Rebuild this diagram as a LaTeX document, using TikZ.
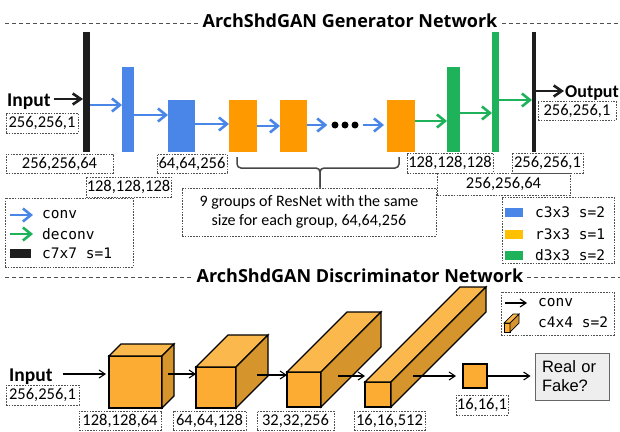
\documentclass[tikz,border=0pt]{standalone}
\usepackage{fontspec}
\setmainfont{Carlito}
\newfontfamily\monof{DejaVu Sans Mono}
\newfontfamily\arialf{Liberation Sans}
\newfontfamily\titlef{Open Sans}
\usetikzlibrary{arrows.meta,calc}
\definecolor{gblue}{RGB}{74,134,232}
\definecolor{gorange}{RGB}{255,153,0}
\definecolor{ggreen}{RGB}{30,178,90}
\definecolor{gblack}{RGB}{30,30,30}
\definecolor{lyellow}{RGB}{255,192,0}
\definecolor{cfront}{RGB}{252,172,50}
\definecolor{ctop}{RGB}{251,184,76}
\definecolor{cside}{RGB}{214,148,45}
\definecolor{dashgray}{RGB}{80,80,80}
\definecolor{bracegray}{RGB}{70,70,70}
\definecolor{rfgray}{RGB}{238,238,238}
\newcommand\mycube[7]{%
  \node[cubefront, #7, minimum width=#4pt, minimum height=#5pt, anchor=north west] (#1) at (#2,#3) {};
  \filldraw[cubetop, #7] (#1.north west) -- ++(#6,-#6) -- ++(#4,0) -- (#1.north east) -- cycle;
  \filldraw[cubeside, #7] (#1.north east) -- ++(#6,-#6) -- ++(0,#5) -- (#1.south east) -- cycle;
}
\begin{document}
\begin{tikzpicture}[x=1pt,y=-1pt,
  ttl/.style={font=\titlef\fontsize{18}{22}\selectfont\bfseries, inner sep=0pt, anchor=base},
  tdash/.style={draw=dashgray, line width=0.9pt, dash pattern=on 4pt off 3pt},
  inp/.style={font=\fontsize{19.5}{23}\selectfont\bfseries, inner sep=0pt, anchor=base west},
  bar/.style={draw=none, inner sep=0pt, outer sep=0pt, anchor=north west},
  lbl/.style={draw=dashgray, line width=0.6pt, dash pattern=on 1.6pt off 1.2pt, inner sep=0pt, font=\fontsize{16.5}{19}\selectfont},
  lgd/.style={draw=dashgray, line width=0.6pt, dash pattern=on 1.6pt off 1.2pt, inner sep=0pt},
  lgt/.style={font=\monof\fontsize{14.5}{17}\selectfont, inner sep=0pt, anchor=west},
  genarr/.style={line width=2.6pt, -{Straight Barb[length=8pt,width=13pt]}},
  blkarr/.style={line width=2.6pt, gblack, -{Straight Barb[length=8pt,width=11pt]}},
  darr/.style={line width=1.1pt, black, -{Straight Barb[length=6pt,width=8pt]}},
  cubefront/.style={draw=black, fill=cfront, line width=1.2pt, inner sep=0pt, outer sep=0pt},
  cubetop/.style={draw=black, fill=ctop, line width=1.2pt},
  cubeside/.style={draw=black, fill=cside, line width=1.2pt},
  dotn/.style={circle, fill=black, inner sep=0pt, minimum size=7pt},
  brace/.style={draw=bracegray, line width=1.5pt, rounded corners=4pt}
]
\useasboundingbox (0,0) rectangle (620,431);

% ---------------- Generator ----------------
\node[ttl] (gt) at (350,27) {ArchShdGAN Generator Network};
\draw[tdash] (5,23) -- ([xshift=-3pt]gt.west |- 0,23);
\draw[tdash] ([xshift=4pt]gt.east |- 0,23) -- (620,23);

\node[bar, fill=gblack, minimum width=7pt, minimum height=120pt] (k1) at (83,32) {};
\node[bar, fill=gblue, minimum width=12pt, minimum height=85pt] (b1) at (122,67) {};
\node[bar, fill=gblue, minimum width=27pt, minimum height=52pt] (b2) at (168,100) {};
\node[bar, fill=gorange, minimum width=28pt, minimum height=52pt] (o1) at (229,100) {};
\node[bar, fill=gorange, minimum width=27pt, minimum height=52pt] (o2) at (280,100) {};
\node[bar, fill=gorange, minimum width=28pt, minimum height=52pt] (o3) at (387,100) {};
\node[bar, fill=ggreen, minimum width=13pt, minimum height=85pt] (g1) at (447,67) {};
\node[bar, fill=ggreen, minimum width=7pt, minimum height=120pt] (g2) at (492,32) {};
\node[bar, fill=gblack, minimum width=4pt, minimum height=120pt] (k2) at (532,32) {};

\node[dotn] (d1) at (335,125) {};
\node[dotn] (d2) at (345,125) {};
\node[dotn] (d3) at (355,125) {};

\node[inp] (gin) at (7,106) {Input};
\node[inp, font=\fontsize{18}{22}\selectfont\bfseries] (gout) at (565,97) {Output};

\draw[blkarr, shorten <=3pt] (gin.east |- 0,99) -- (k1.west |- 0,99);
\draw[genarr, gblue] (k1.east |- 0,105) -- (b1.west |- 0,105);
\draw[genarr, gblue] (b1.east |- 0,115) -- (b2.west |- 0,115);
\draw[genarr, gblue] (b2.east |- 0,124) -- (o1.west |- 0,124);
\draw[genarr, gblue] (o1.east |- 0,126) -- (o2.west |- 0,126);
\draw[genarr, gblue, shorten >=4pt] (o2.east |- 0,125) -- (d1.west);
\draw[genarr, gblue, shorten <=4pt, shorten >=3pt] (d3.east) -- (o3.west |- 0,125);
\draw[genarr, ggreen] (o3.east |- 0,121) -- (g1.west |- 0,121);
\draw[genarr, ggreen] (g1.east |- 0,113) -- (g2.west |- 0,113);
\draw[genarr, ggreen] (g2.east |- 0,100) -- (k2.west |- 0,100);
\draw[blkarr, shorten >=1pt] (k2.east |- 0,91) -- (gout.west |- 0,91);

\node[lbl, minimum width=72pt, minimum height=20pt] (l1) at (42,123) {256,256,1};
\node[lbl, minimum width=107pt, minimum height=19pt] (l2) at (59.5,163.5) {256,256,64};
\node[lbl, minimum width=85pt, minimum height=20pt] (l3) at (128.5,187) {128,128,128};
\node[lbl, minimum width=70pt, minimum height=19pt] (l4) at (192,163.5) {64,64,256};
\node[lbl, minimum width=86pt, minimum height=20pt] (l5) at (450,163) {128,128,128};
\node[lbl, minimum width=71pt, minimum height=20pt] (l6) at (547.5,163) {256,256,1};
\node[lbl, minimum width=133pt, minimum height=22pt] (l7) at (503.5,184) {256,256,64};
\node[lbl, minimum width=78pt, minimum height=19pt] (l8) at (577,110.5) {256,256,1};

\node[lbl, minimum width=254pt, minimum height=48pt, align=center, font=\fontsize{16}{19}\selectfont] (txt) at (309,212)
  {9 groups of ResNet with the same\\size for each group, 64,64,256};
\coordinate (bl) at (237,157);
\coordinate (br) at (399,157);
\coordinate (bm) at (320,168);
\draw[brace] (bl) |- (bm) -- (bm |- txt.north);
\draw[brace] (br) |- (bm) -- (bm |- txt.north);

% legend left
\node[lgd, minimum width=128pt, minimum height=69pt] (legL) at (69,232.5) {};
\coordinate (la1) at (10,215); \coordinate (la2) at (33,215);
\coordinate (lb1) at (10,234); \coordinate (lb2) at (33,234);
\draw[genarr, gblue] (la1) -- (la2);
\draw[genarr, ggreen] (lb1) -- (lb2);
\node[bar, fill=gblack, minimum width=21pt, minimum height=9pt] (lk) at (10,249) {};
\node[lgt] (lt1) at (42,215) {conv};
\node[lgt] (lt2) at (42,234) {deconv};
\node[lgt] (lt3) at (42,253.5) {c7x7 s=1};

% legend right
\node[lgd, minimum width=112pt, minimum height=66pt] (legR) at (558,230) {};
\node[bar, fill=gblue, minimum width=18pt, minimum height=9pt] (lr1) at (505,208) {};
\node[bar, fill=lyellow, minimum width=18pt, minimum height=9pt] (lr2) at (505,230) {};
\node[bar, fill=ggreen, minimum width=18pt, minimum height=9pt] (lr3) at (505,251) {};
\node[lgt] (lrt1) at (535,212.5) {c3x3 s=2};
\node[lgt] (lrt2) at (535,234) {r3x3 s=1};
\node[lgt] (lrt3) at (535,255.5) {d3x3 s=2};

% ---------------- Discriminator ----------------
\node[ttl] (dt) at (360,282) {ArchShdGAN Discriminator Network};
\draw[tdash] (5,277) -- ([xshift=-3pt]dt.west |- 0,277);
\draw[tdash] ([xshift=4pt]dt.east |- 0,277) -- (620,277);

\mycube{c1}{109}{356}{53}{52}{12}{}
\mycube{c2}{196}{367}{40}{41}{32}{}
\mycube{c3}{287}{372}{34}{35}{60}{}
\mycube{c4}{365}{382}{26}{25}{95}{}
\node[cubefront, minimum width=24pt, minimum height=24pt, anchor=north west] (sq) at (463,364) {};

\node[inp] (din) at (9,381) {Input};
\node[draw=black!60, fill=rfgray, line width=0.8pt, minimum width=74pt, minimum height=47pt, text width=60pt, align=left,
  font=\arialf\fontsize{16.5}{19}\selectfont] (rf) at (572,376.5) {Real or\\Fake?};

\coordinate (s1) at (168,374);
\coordinate (s2) at (257,375);
\coordinate (s3) at (338,376);
\coordinate (s4) at (413,376);
\draw[darr, shorten <=10pt, shorten >=3pt] (din.east |- 0,374) -- (c1.west |- 0,374);
\draw[darr] (s1) -- (c2.west |- s1);
\draw[darr] (s2) -- (c3.west |- s2);
\draw[darr] (s3) -- (c4.west |- s3);
\draw[darr, shorten >=7pt] (s4) -- (sq.west |- s4);
\draw[darr, shorten >=4pt] (sq.east) -- (rf.west |- sq.east);

\node[lbl, minimum width=73pt, minimum height=20pt] (m1) at (42.5,395) {256,256,1};
\node[lbl, minimum width=82pt, minimum height=19pt] (m2) at (120,420.5) {128,128,64};
\node[lbl, minimum width=73pt, minimum height=19pt] (m3) at (209.5,420.5) {64,64,128};
\node[lbl, minimum width=77pt, minimum height=19pt] (m4) at (295.5,420.5) {32,32,256};
\node[lbl, minimum width=71pt, minimum height=19pt] (m5) at (389.5,420.5) {16,16,512};
\node[lbl, minimum width=52pt, minimum height=20pt] (m6) at (482,405) {16,16,1};

% legend discriminator
\node[lgd, minimum width=113pt, minimum height=43pt] (legD) at (557.5,313.5) {};
\coordinate (da1) at (505,303); \coordinate (da2) at (527,303);
\draw[darr] (da1) -- (da2);
\mycube{lc}{504}{323}{6}{9}{9}{line width=0.7pt}
\node[lgt] (ldt1) at (538,303) {conv};
\node[lgt] (ldt2) at (538,322) {c4x4 s=2};
\end{tikzpicture}
\end{document}
